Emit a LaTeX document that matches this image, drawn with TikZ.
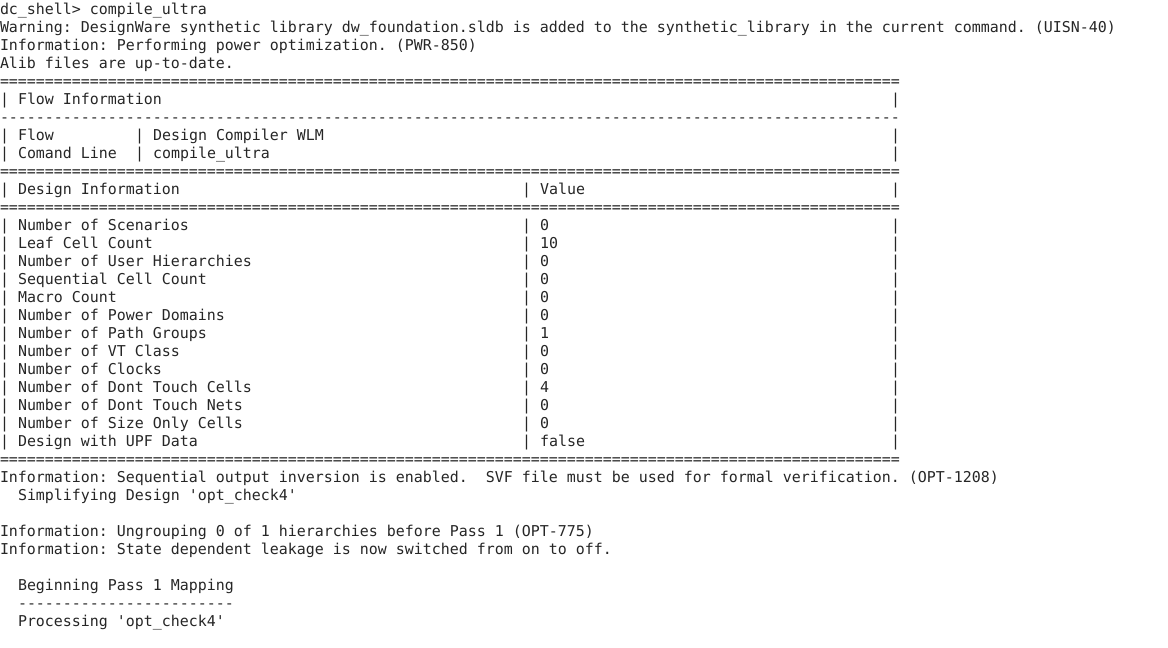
\documentclass[tikz,border=0pt]{standalone}
\usepackage{fontspec}
\setmonofont{DejaVu Sans Mono}
\definecolor{txt}{HTML}{262626}
\newcommand\eqten{==========}
\newcommand\eqline{\eqten\eqten\eqten\eqten\eqten\eqten\eqten\eqten\eqten\eqten}
\newcommand\dashten{----------}
\newcommand\dashline{\dashten\dashten\dashten\dashten\dashten\dashten\dashten\dashten\dashten\dashten}
\begin{document}
\begin{tikzpicture}[x=1pt,y=-1pt,
  ln/.style={anchor=base west, inner sep=0pt, outer sep=0pt,
    font=\ttfamily\frenchspacing\fontsize{14.95}{18}\selectfont, text=txt}]
\useasboundingbox[fill=white] (0,0) rectangle (1168,648);
% header lines
\node[ln] (l1) at (0,14) {dc\_shell> compile\_ultra};
\node[ln] (l2) at (0,32) {Warning: DesignWare synthetic library dw\_foundation.sldb is added to the synthetic\_library in the current command. (UISN-40)};
\node[ln] (l3) at (0,50) {Information: Performing power optimization. (PWR-850)};
\node[ln] (l4) at (0,68) {Alib files are up-to-date.};
% table
\node[ln] (e1) at (0,86) {\eqline};
\node[ln] (b6a) at (0,104) {|};
\node[ln] (t6) at (18,104) {Flow Information};
\node[ln] (b6c) at (9*99,104) {|};
\node[ln] (d1) at (0,122) {\dashline};
\node[ln] (b8a) at (0,140) {|};
\node[ln] (t8a) at (18,140) {Flow};
\node[ln] (b8b) at (9*15,140) {|};
\node[ln] (t8b) at (9*17,140) {Design Compiler WLM};
\node[ln] (b8c) at (9*99,140) {|};
\node[ln] (b9a) at (0,158) {|};
\node[ln] (t9a) at (18,158) {Comand Line};
\node[ln] (b9b) at (9*15,158) {|};
\node[ln] (t9b) at (9*17,158) {compile\_ultra};
\node[ln] (b9c) at (9*99,158) {|};
\node[ln] (e2) at (0,176) {\eqline};
\node[ln] (b11a) at (0,194) {|};
\node[ln] (t11a) at (18,194) {Design Information};
\node[ln] (b11b) at (9*58,194) {|};
\node[ln] (t11b) at (9*60,194) {Value};
\node[ln] (b11c) at (9*99,194) {|};
\node[ln] (e3) at (0,212) {\eqline};
\foreach \lab/\val [count=\k] in {
  Number of Scenarios/0,
  Leaf Cell Count/10,
  Number of User Hierarchies/0,
  Sequential Cell Count/0,
  Macro Count/0,
  Number of Power Domains/0,
  Number of Path Groups/1,
  Number of VT Class/0,
  Number of Clocks/0,
  Number of Dont Touch Cells/4,
  Number of Dont Touch Nets/0,
  Number of Size Only Cells/0,
  Design with UPF Data/false}{
  \pgfmathsetmacro\yy{212+18*\k}
  \node[ln] (ra\k) at (0,\yy) {|};
  \node[ln] (rl\k) at (18,\yy) {\lab};
  \node[ln] (rb\k) at (9*58,\yy) {|};
  \node[ln] (rv\k) at (9*60,\yy) {\val};
  \node[ln] (rc\k) at (9*99,\yy) {|};
}
\node[ln] (e4) at (0,464) {\eqline};
% trailing lines
\node[ln] (l27) at (0,482) {Information: Sequential output inversion is enabled.\ \ SVF file must be used for formal verification. (OPT-1208)};
\node[ln] (l28) at (18,500) {Simplifying Design 'opt\_check4'};
\node[ln] (l30) at (0,536) {Information: Ungrouping 0 of 1 hierarchies before Pass 1 (OPT-775)};
\node[ln] (l31) at (0,554) {Information: State dependent leakage is now switched from on to off.};
\node[ln] (l33) at (18,590) {Beginning Pass 1 Mapping};
\node[ln] (l34) at (18,608) {------------------------};
\node[ln] (l35) at (18,626) {Processing 'opt\_check4'};
\end{tikzpicture}
\end{document}
